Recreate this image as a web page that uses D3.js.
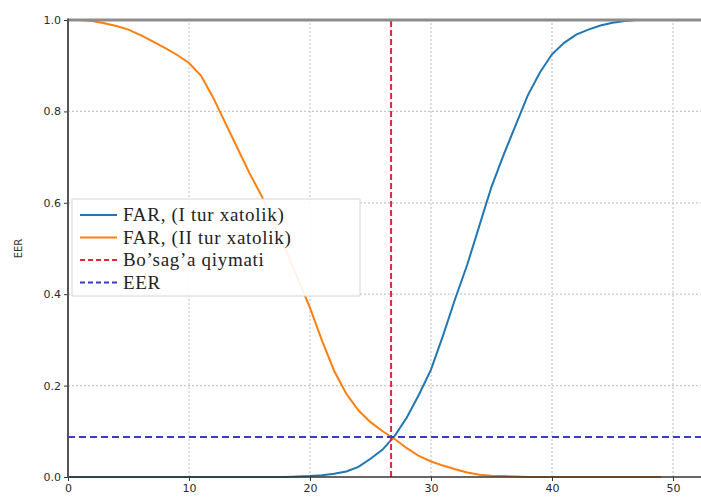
<!DOCTYPE html>
<html>
<head>
<meta charset="utf-8">
<script src="https://cdn.jsdelivr.net/npm/d3@7"></script>
<style>
  body { margin: 0; background: #fff; }
  svg { display: block; }
  .tick text { font-family: 'DejaVu Sans', sans-serif; font-size: 11px; fill: #2a2a2a; }
</style>
</head>
<body>
<div id="chart"></div>
<script>
// threshold values (x) and error rates
const thresholds = d3.range(0, 50)
const farType1 = [
  0, 0, 0, 0, 0, 0, 0, 0, 0, 0,
  0, 0, 0, 0, 0, 0, 0, 0, 0, 0.001,
  0.002, 0.004, 0.007, 0.012, 0.022, 0.04, 0.06, 0.09, 0.13, 0.18,
  0.235, 0.31, 0.39, 0.465, 0.55, 0.635, 0.705, 0.77, 0.835, 0.885,
  0.925, 0.95, 0.968, 0.979, 0.988, 0.994, 0.998, 1.0, 1.0, 1.0
]
const farType2 = [
  1.0, 1.0, 0.998, 0.993, 0.987, 0.979, 0.967, 0.953, 0.939, 0.924,
  0.906, 0.878, 0.83, 0.775, 0.72, 0.665, 0.615, 0.556, 0.495, 0.434,
  0.37, 0.298, 0.232, 0.182, 0.146, 0.12, 0.1, 0.083, 0.063, 0.046,
  0.034, 0.025, 0.017, 0.01, 0.005, 0.003, 0.002, 0.001, 0, 0,
  0, 0, 0, 0, 0, 0, 0, 0, 0, 0
]
const threshold = 26.7
const eer = 0.0875
const xTicks = [0, 10, 20, 30, 40, 50]
const yTicks = [0, 0.2, 0.4, 0.6, 0.8, 1.0]
const legendLabels = ['FAR, (I tur xatolik)', 'FAR, (II tur xatolik)', 'Bo’sag’a qiymati', 'EER']

const width = 701
const height = 502
const margin = { top: 20, left: 68, bottom: 25 }

const svg = d3
  .select('#chart')
  .append('svg')
  .attr('width', width)
  .attr('height', height)

const x = d3.scaleLinear().domain([0, 53]).range([margin.left, margin.left + 53 * 12.1])
const y = d3.scaleLinear().domain([0, 1]).range([height - margin.bottom, margin.top])

// grid
svg.append('g')
  .selectAll('line')
  .data(xTicks.slice(1))
  .enter()
  .append('line')
  .attr('x1', d => x(d)).attr('x2', d => x(d))
  .attr('y1', y(0)).attr('y2', y(1))
  .attr('stroke', '#c8c8c8').attr('stroke-width', 1.2)
  .attr('stroke-dasharray', '2,2')

svg.append('g')
  .selectAll('line')
  .data(yTicks.slice(1, -1))
  .enter()
  .append('line')
  .attr('x1', x(0)).attr('x2', width)
  .attr('y1', d => y(d)).attr('y2', d => y(d))
  .attr('stroke', '#c8c8c8').attr('stroke-width', 1.2)
  .attr('stroke-dasharray', '2,2')

// curves
const line1 = d3.line().x((d, i) => x(thresholds[i])).y(d => y(d))

svg.append('path')
  .datum(farType1)
  .attr('d', line1)
  .attr('fill', 'none')
  .attr('stroke', '#1f77b4')
  .attr('stroke-width', 2)

svg.append('path')
  .datum(farType2)
  .attr('d', line1)
  .attr('fill', 'none')
  .attr('stroke', '#ff7f0e')
  .attr('stroke-width', 2)

// threshold + EER lines
svg.append('line')
  .attr('x1', x(threshold)).attr('x2', x(threshold))
  .attr('y1', y(0)).attr('y2', y(1))
  .attr('stroke', '#e0283c').attr('stroke-width', 2)
  .attr('stroke-dasharray', '6,3')

svg.append('line')
  .attr('x1', x(0)).attr('x2', width)
  .attr('y1', y(eer)).attr('y2', y(eer))
  .attr('stroke', '#3a3ad0').attr('stroke-width', 2.2)
  .attr('stroke-dasharray', '7,4')

// axes
const xAxis = d3.axisBottom(x).tickValues(xTicks).tickSize(4).tickPadding(3)
svg.append('g')
  .attr('class', 'axis x-axis')
  .attr('transform', 'translate(0,' + y(0) + ')')
  .call(xAxis)
  .call(g => g.select('.domain').remove())
  .call(g => g.selectAll('.tick line').attr('stroke', '#333'))

const yAxis = d3.axisLeft(y).tickValues(yTicks).tickFormat(d3.format('.1f')).tickSize(4).tickPadding(3)
svg.append('g')
  .attr('class', 'axis y-axis')
  .attr('transform', 'translate(' + x(0) + ',0)')
  .call(yAxis)
  .call(g => g.select('.domain').remove())
  .call(g => g.selectAll('.tick line').attr('stroke', '#333'))

// spines
svg.append('line')
  .attr('x1', x(0)).attr('x2', width).attr('y1', y(1)).attr('y2', y(1))
  .attr('stroke', '#8c8c8c').attr('stroke-width', 3)
svg.append('line')
  .attr('x1', x(0)).attr('x2', width).attr('y1', y(0)).attr('y2', y(0))
  .attr('stroke', '#333').attr('stroke-width', 1.5)
svg.append('line')
  .attr('x1', x(0)).attr('x2', x(0)).attr('y1', y(0) + 0.75).attr('y2', y(1) - 1.5)
  .attr('stroke', '#555').attr('stroke-width', 2)

// y label
svg.append('text')
  .attr('transform', 'translate(22,' + y(0.5) + ') rotate(-90)')
  .attr('text-anchor', 'middle')
  .style('font-family', 'DejaVu Sans, sans-serif')
  .style('font-size', '10px')
  .style('fill', '#333')
  .text('EER')

// legend
const legend = svg.append('g').attr('transform', 'translate(72,199)')
legend.append('rect')
  .attr('width', 288).attr('height', 97)
  .attr('fill', 'white').attr('fill-opacity', 0.9)
  .attr('stroke', '#d6d6d6')

const legendColors = ['#1f77b4', '#ff7f0e', '#e0283c', '#3a3ad0']
const legendDash = [null, null, '5,3', '5,3']

legendLabels.forEach(function(label, i) {
  const ly = 16 + i * 22.5
  legend.append('line')
    .attr('x1', 8).attr('x2', 45).attr('y1', ly).attr('y2', ly)
    .attr('stroke', legendColors[i]).attr('stroke-width', 2)
    .attr('stroke-dasharray', legendDash[i])
  legend.append('text')
    .attr('x', 51).attr('y', ly + 6)
    .style('font-family', 'Liberation Serif, serif')
    .style('font-size', '19px')
    .style('letter-spacing', '0.7px')
    .style('fill', '#222')
    .text(label)
})
</script>
</body>
</html>
